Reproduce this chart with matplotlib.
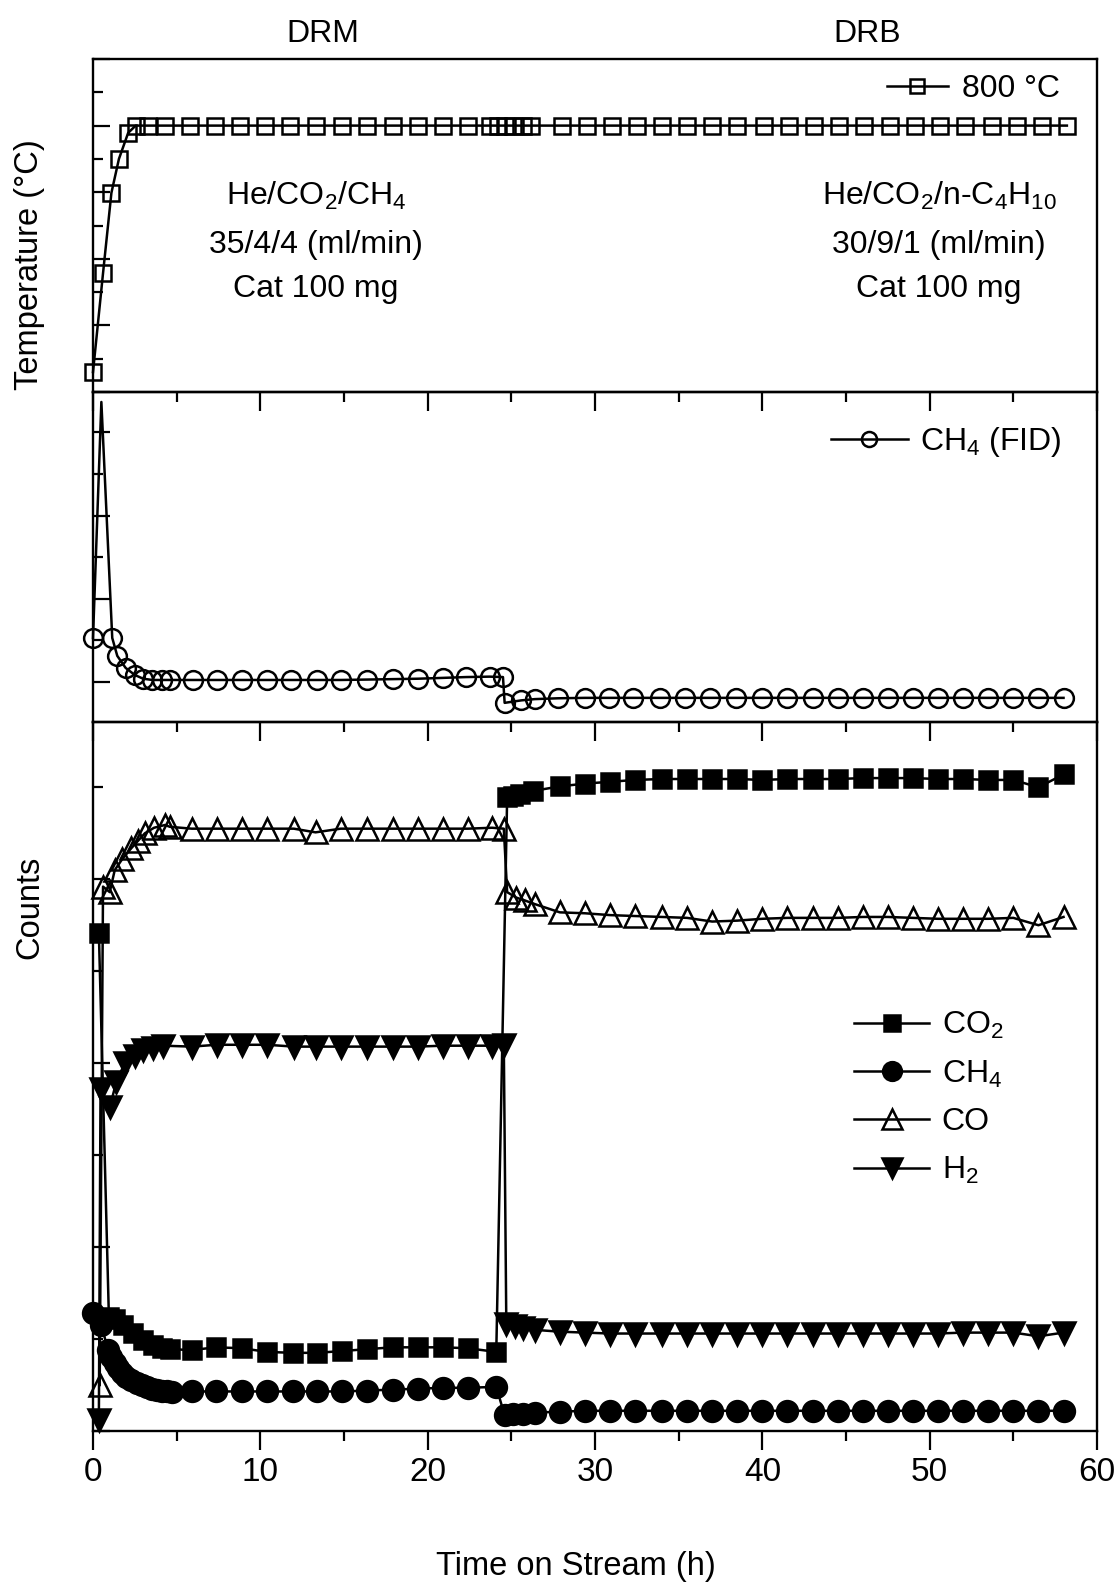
import matplotlib
matplotlib.use('Agg')
import matplotlib.pyplot as plt
from matplotlib.ticker import MultipleLocator, NullFormatter

# fonts: Arial-like
plt.rcParams['font.family'] = ['Liberation Sans Narrow', 'Liberation Sans', 'DejaVu Sans']
plt.rcParams['mathtext.default'] = 'regular'

# ---- temperature panel ----
temp_t = [0, 0.6, 1.1, 1.55, 2.1, 2.55, 3.3, 4.3, 5.8, 7.3, 8.8, 10.3, 11.8, 13.35,
          14.9, 16.4, 17.9, 19.4, 20.9, 22.4, 23.7, 24.2, 24.65, 25.1, 25.7, 26.2,
          28.0, 29.5, 31.0, 32.5, 34.0, 35.5, 37.0, 38.5, 40.1, 41.6, 43.1, 44.6,
          46.1, 47.6, 49.1, 50.6, 52.1, 53.7, 55.2, 56.7, 58.2]
temp_c = [60, 357, 598, 700, 778, 800, 800, 800, 800, 800, 800, 800, 800, 800,
          800, 800, 800, 800, 800, 800, 800, 800, 800, 800, 800, 800,
          800, 800, 800, 800, 800, 800, 800, 800, 800, 800, 800, 800,
          800, 800, 800, 800, 800, 800, 800, 800, 800]

# ---- CH4 (FID) panel ----
fid_t = [0, 0.5, 1.15, 1.45, 1.95, 2.5, 3.0, 3.55, 4.1, 4.6, 6.0, 7.4, 8.9, 10.4,
         11.85, 13.4, 14.8, 16.4, 17.9, 19.4, 20.9, 22.3, 23.7, 24.5, 24.6, 25.6,
         26.4, 27.8, 29.4, 30.85, 32.3, 33.9, 35.4, 36.9, 38.4, 40.0, 41.5, 43.0,
         44.5, 46.0, 47.5, 49.0, 50.5, 52.0, 53.5, 55.0, 56.5, 58.0]
fid_v = [1.06, 6.73, 1.06, 0.63, 0.34, 0.17, 0.08, 0.05, 0.05, 0.05, 0.05, 0.05, 0.05, 0.05,
         0.05, 0.05, 0.05, 0.06, 0.07, 0.08, 0.10, 0.12, 0.13, 0.12, -0.50, -0.44,
         -0.41, -0.39, -0.38, -0.38, -0.38, -0.38, -0.38, -0.38, -0.38, -0.38, -0.38, -0.38,
         -0.38, -0.38, -0.38, -0.38, -0.38, -0.38, -0.38, -0.38, -0.38, -0.38]

# ---- MS counts panel ----
right_t = [29.4, 30.9, 32.4, 34.0, 35.5, 37.0, 38.5, 40.0, 41.5, 43.0,
           44.5, 46.0, 47.5, 49.0, 50.5, 52.0, 53.5, 55.0, 56.5, 58.0]

co2_t = [0.35, 0.95, 1.3, 1.8, 2.4, 3.0, 3.6, 4.1, 4.6,
         5.9, 7.35, 8.9, 10.4, 11.95, 13.4, 14.9, 16.4, 17.9, 19.4, 20.9, 22.4, 24.1,
         24.75, 25.1, 25.5, 26.3, 27.9] + right_t
co2_v = [5.42, 1.24, 1.22, 1.15, 1.07, 0.99, 0.93, 0.90, 0.89,
         0.88, 0.91, 0.90, 0.86, 0.85, 0.85, 0.87, 0.89, 0.91, 0.91, 0.91, 0.90, 0.86,
         6.89, 6.91, 6.93, 6.96, 7.01,
         7.04, 7.06, 7.08, 7.09, 7.09, 7.09, 7.09, 7.08, 7.09, 7.09,
         7.09, 7.10, 7.10, 7.10, 7.09, 7.09, 7.08, 7.08, 7.00, 7.14]

ch4_t = [0, 0.5, 0.9, 1.1, 1.3, 1.5, 1.75, 2.0, 2.3, 2.6, 2.9, 3.2, 3.5, 3.8, 4.1, 4.4, 4.7,
         5.9, 7.35, 8.9, 10.4, 11.95, 13.4, 14.9, 16.4, 17.9, 19.4, 20.9, 22.4, 24.1,
         24.6, 25.1, 25.7, 26.4, 27.9] + right_t
ch4_v = [1.28, 1.15, 0.88, 0.80, 0.74, 0.69, 0.63, 0.59, 0.55, 0.52, 0.50, 0.48, 0.46, 0.45,
         0.44, 0.43, 0.42,
         0.43, 0.43, 0.43, 0.43, 0.43, 0.43, 0.43, 0.44, 0.45, 0.46, 0.47, 0.47, 0.48,
         0.17, 0.18, 0.19, 0.20, 0.21,
         0.22, 0.22, 0.22, 0.22, 0.22, 0.22, 0.22, 0.22, 0.22, 0.22,
         0.22, 0.22, 0.22, 0.22, 0.22, 0.22, 0.22, 0.22, 0.22, 0.22]

co_t = [0.4, 0.6, 1.0, 1.3, 1.75, 2.3, 2.7, 3.1, 3.65, 4.3, 4.6,
        5.9, 7.4, 8.9, 10.4, 12.0, 13.3, 14.8, 16.4, 17.9, 19.4, 20.9, 22.4, 23.85, 24.55,
        24.75, 25.3, 25.8, 26.4, 27.9] + right_t
co_v = [0.50, 5.92, 5.86, 6.10, 6.22, 6.34, 6.42, 6.50, 6.56, 6.59, 6.57,
        6.55, 6.55, 6.55, 6.55, 6.55, 6.51, 6.55, 6.55, 6.55, 6.55, 6.55, 6.55, 6.56, 6.55,
        5.86, 5.80, 5.77, 5.73, 5.64,
        5.63, 5.61, 5.60, 5.59, 5.58, 5.54, 5.55, 5.57, 5.58, 5.58,
        5.58, 5.59, 5.59, 5.58, 5.57, 5.57, 5.57, 5.58, 5.50, 5.59]

h2_t = [0.35, 0.45, 1.0, 1.4, 1.9, 2.5, 3.0, 3.6, 4.2,
        5.9, 7.4, 8.9, 10.4, 12.0, 13.3, 14.8, 16.4, 17.9, 19.4, 20.9, 22.4, 23.85, 24.55,
        24.7, 25.2, 25.7, 26.4, 27.9] + right_t
h2_v = [0.12, 3.72, 3.52, 3.80, 4.00, 4.08, 4.14, 4.17, 4.19,
        4.18, 4.20, 4.20, 4.20, 4.18, 4.18, 4.18, 4.18, 4.18, 4.18, 4.19, 4.19, 4.19, 4.20,
        1.16, 1.14, 1.12, 1.10, 1.08,
        1.07, 1.06, 1.06, 1.06, 1.06, 1.06, 1.06, 1.06, 1.06, 1.06,
        1.06, 1.06, 1.06, 1.06, 1.06, 1.07, 1.07, 1.07, 1.03, 1.07]

FS = 23
W, H = 1118, 1585

fig = plt.figure(figsize=(W / 100, H / 100), dpi=100)
gs = fig.add_gridspec(3, 1, height_ratios=[333, 330, 709], hspace=0,
                      left=93 / W, right=1097 / W, top=1 - 59 / H, bottom=1 - 1431 / H)
ax1 = fig.add_subplot(gs[0])
ax2 = fig.add_subplot(gs[1], sharex=ax1)
ax3 = fig.add_subplot(gs[2], sharex=ax1)

line_kw = dict(color='k', lw=1.8, mec='k', mew=1.8, clip_on=False)

# hollow markers let the line show through, as in the original
ax1.plot(temp_t, temp_c, marker='s', ms=12, mfc='none', label='800 °C', **line_kw)
ax2.plot(fid_t, fid_v, marker='o', ms=13.5, mfc='none', label='CH$_4$ (FID)',
         markevery=[i for i in range(len(fid_t)) if i != 1], **line_kw)
ax3.plot(co2_t, co2_v, marker='s', ms=13, mfc='k', label='CO$_2$', **line_kw)
ax3.plot(ch4_t, ch4_v, marker='o', ms=15, mfc='k', label='CH$_4$', **line_kw)
ax3.plot(co_t, co_v, marker='^', ms=16, mfc='none', label='CO', **line_kw)
ax3.plot(h2_t, h2_v, marker='v', ms=16, mfc='k', label='H$_2$', **line_kw)

ax1.set_ylim(0, 1000)
ax1.yaxis.set_major_locator(MultipleLocator(200))
ax1.yaxis.set_minor_locator(MultipleLocator(100))
ax2.set_ylim(-0.96, 6.97)
ax2.yaxis.set_major_locator(MultipleLocator(2))
ax2.yaxis.set_minor_locator(MultipleLocator(1))
ax3.set_ylim(0, 7.71)
ax3.yaxis.set_major_locator(MultipleLocator(2))
ax3.yaxis.set_minor_locator(MultipleLocator(1))

ax3.set_xlim(0, 60)
ax3.xaxis.set_major_locator(MultipleLocator(10))
ax3.xaxis.set_minor_locator(MultipleLocator(5))

for ax in (ax1, ax2, ax3):
    ax.set_facecolor('none')
    for sp in ax.spines.values():
        sp.set_linewidth(1.7)
    ax.tick_params(axis='x', which='both', direction='out', bottom=True, top=False,
                   width=1.6, labelsize=24, pad=5)
    ax.tick_params(axis='x', which='major', length=14)
    ax.tick_params(axis='x', which='minor', length=7)
    ax.tick_params(axis='y', which='both', direction='in', left=True, right=False,
                   width=1.6, labelleft=False)
    ax.tick_params(axis='y', which='major', length=12)
    ax.tick_params(axis='y', which='minor', length=7)
    ax.yaxis.set_minor_formatter(NullFormatter())
ax1.tick_params(axis='x', labelbottom=False)
ax2.tick_params(axis='x', labelbottom=False)

ax1.legend(loc='center left', bbox_to_anchor=((887 - 93) / 1004, (392 - 89) / 333),
           frameon=False, fontsize=FS, handlelength=1.9, handletextpad=0.45,
           borderpad=0, borderaxespad=0, markerscale=0.85)
ax2.legend(loc='center left', bbox_to_anchor=((831 - 93) / 1004, (722 - 442) / 330),
           frameon=False, fontsize=FS, handlelength=2.4, handletextpad=0.4,
           borderpad=0, borderaxespad=0, markerscale=0.8)
ax3.legend(loc='center left', bbox_to_anchor=((854 - 93) / 1004, (1431 - 1098) / 709),
           frameon=False, fontsize=FS, handlelength=2.35, handletextpad=0.4,
           labelspacing=0.55, borderpad=0, borderaxespad=0, markerscale=0.9)

# gas feed annotations
left_lines = ['He/CO$_2$/CH$_4$', '35/4/4 (ml/min)', 'Cat 100 mg']
right_lines = ['He/CO$_2$/n-C$_4$H$_{10}$', '30/9/1 (ml/min)', 'Cat 100 mg']
baselines = [(392 - 205) / 333, (392 - 253) / 333, (392 - 297) / 333]
for txt, yb in zip(left_lines, baselines):
    ax1.text((316 - 93) / 1004, yb, txt, transform=ax1.transAxes, ha='center',
             va='baseline', fontsize=FS)
for txt, yb in zip(right_lines, baselines):
    ax1.text((939 - 93) / 1004, yb, txt, transform=ax1.transAxes, ha='center',
             va='baseline', fontsize=FS)

fig.text(323 / W, 1 - 42 / H, 'DRM', ha='center', va='baseline', fontsize=FS)
fig.text(867 / W, 1 - 42 / H, 'DRB', ha='center', va='baseline', fontsize=FS)
fig.text(30 / W, 1 - 265 / H, 'Temperature (°C)', rotation=90, ha='center', va='center',
         fontsize=23.5)
fig.text(30 / W, 1 - 907 / H, 'Counts', rotation=90, ha='center', va='center', fontsize=23.5)
fig.text(576 / W, 1 - 1566 / H, 'Time on Stream (h)', ha='center', va='center', fontsize=23.5)

fig.savefig('out.png', dpi=100)
